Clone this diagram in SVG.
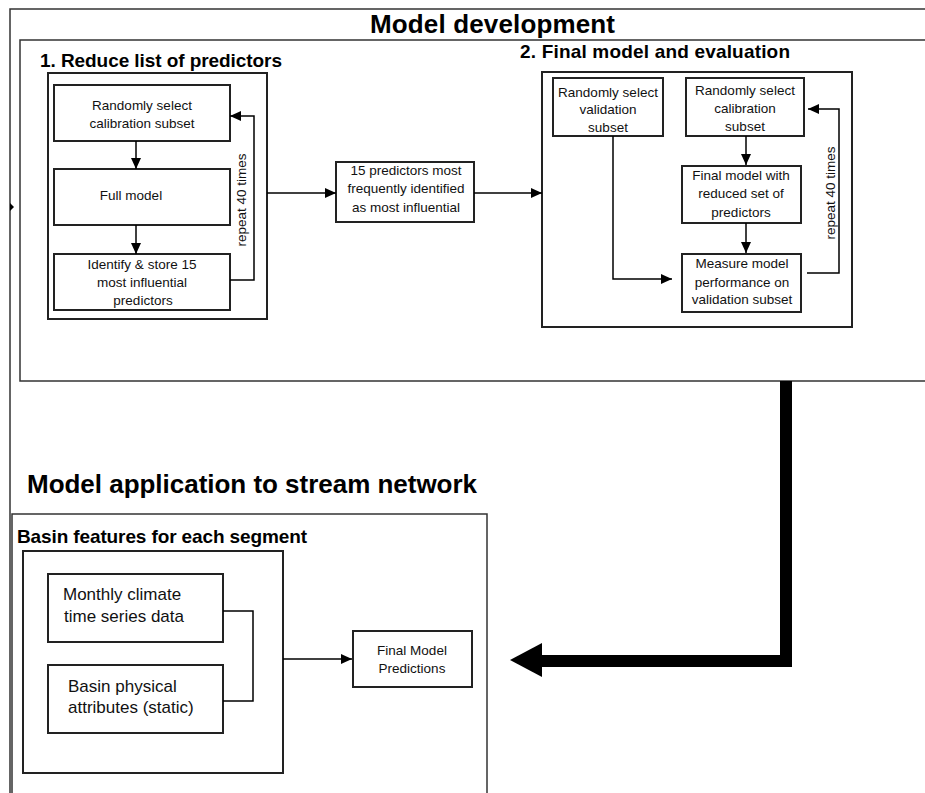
<svg xmlns="http://www.w3.org/2000/svg" width="925" height="793" viewBox="0 0 925 793">
  <style>
    .frame { fill: none; stroke: #333; stroke-width: 1.5; }
    .box { fill: #fff; stroke: #222; stroke-width: 2; }
    .wire { fill: none; stroke: #000; stroke-width: 1.5; }
    .h1 { font-family: "Liberation Sans", Arial, sans-serif; font-weight: bold; font-size: 26px; fill: #000; }
    .h2 { font-family: "Liberation Sans", Arial, sans-serif; font-weight: bold; font-size: 19px; fill: #000; }
    .t { font-family: "Liberation Sans", Arial, sans-serif; font-size: 13.5px; fill: #111; text-anchor: middle; }
    .tl { font-family: "Liberation Sans", Arial, sans-serif; font-size: 17px; fill: #111; }
  </style>
  <defs>
    <marker id="arrow" markerUnits="userSpaceOnUse" markerWidth="11" markerHeight="10" refX="11" refY="5" orient="auto">
      <path d="M0,0 L11,5 L0,10 z" fill="#000"/>
    </marker>
  </defs>
  <rect width="925" height="793" fill="#fff"/>

  <!-- page frame and section frames (open on the right and bottom) -->
  <g id="frames">
    <path class="frame" d="M10,800 V9 H935"/>
    <path class="frame" d="M935,40 H20 V381 H935"/>
    <path class="frame" d="M12,800 V514 H487 V800"/>
    <path d="M10,203 L14,207 L10,211 z" fill="#000"/>
  </g>

  <!-- headings -->
  <g id="headings">
    <text class="h1" x="370" y="33" textLength="245">Model development</text>
    <text class="h2" x="40" y="67" textLength="242">1. Reduce list of predictors</text>
    <text class="h2" x="520" y="58" textLength="270">2. Final model and evaluation</text>
    <text class="h1" x="27" y="493" textLength="450">Model application to stream network</text>
    <text class="h2" x="17" y="543" textLength="290">Basin features for each segment</text>
  </g>

  <!-- section 1 -->
  <g id="reduce-group">
    <rect class="box" x="48" y="73" width="219" height="246"/>
  </g>
  <g id="calib-subset-1">
    <rect class="box" x="54" y="85" width="176" height="56"/>
    <text class="t" x="142" y="110">Randomly select</text>
    <text class="t" x="142" y="128">calibration subset</text>
  </g>
  <g id="full-model">
    <rect class="box" x="54" y="169" width="176" height="56"/>
    <text class="t" x="131" y="200">Full model</text>
  </g>
  <g id="identify">
    <rect class="box" x="54" y="254" width="176" height="56"/>
    <text class="t" x="142" y="269">Identify &amp; store 15</text>
    <text class="t" x="142" y="287">most influential</text>
    <text class="t" x="143" y="305">predictors</text>
  </g>
  <text class="t" transform="translate(246,200) rotate(-90)">repeat 40 times</text>

  <!-- middle node -->
  <g id="top15">
    <rect class="box" x="336" y="162" width="138" height="60"/>
    <text class="t" x="406" y="175">15 predictors most</text>
    <text class="t" x="406" y="193">frequently identified</text>
    <text class="t" x="406" y="212">as most influential</text>
  </g>

  <!-- section 2 -->
  <g id="final-group">
    <rect class="box" x="542" y="72" width="310" height="255"/>
  </g>
  <g id="valid-subset">
    <rect class="box" x="553" y="78" width="110" height="58"/>
    <text class="t" x="608" y="97">Randomly select</text>
    <text class="t" x="608" y="114">validation</text>
    <text class="t" x="608" y="132">subset</text>
  </g>
  <g id="calib-subset-2">
    <rect class="box" x="686" y="78" width="118" height="58"/>
    <text class="t" x="745" y="95">Randomly select</text>
    <text class="t" x="745" y="113">calibration</text>
    <text class="t" x="745" y="131">subset</text>
  </g>
  <g id="final-model">
    <rect class="box" x="682" y="166" width="119" height="57"/>
    <text class="t" x="741" y="180">Final model with</text>
    <text class="t" x="741" y="198">reduced set of</text>
    <text class="t" x="741" y="217">predictors</text>
  </g>
  <g id="measure">
    <rect class="box" x="682" y="254" width="119" height="58"/>
    <text class="t" x="742" y="268">Measure model</text>
    <text class="t" x="742" y="287">performance on</text>
    <text class="t" x="742" y="304">validation subset</text>
  </g>
  <text class="t" transform="translate(835,193) rotate(-90)">repeat 40 times</text>

  <!-- application section -->
  <g id="basin-group">
    <rect class="box" x="23" y="551" width="260" height="222"/>
  </g>
  <g id="climate">
    <rect class="box" x="48" y="574" width="175" height="68"/>
    <text class="tl" x="63" y="600">Monthly climate</text>
    <text class="tl" x="64" y="622">time series data</text>
  </g>
  <g id="physical">
    <rect class="box" x="48" y="665" width="175" height="68"/>
    <text class="tl" x="68" y="692">Basin physical</text>
    <text class="tl" x="68" y="713">attributes (static)</text>
  </g>
  <g id="predictions">
    <rect class="box" x="353" y="631" width="119" height="56"/>
    <text class="t" x="412" y="655">Final Model</text>
    <text class="t" x="412" y="673">Predictions</text>
  </g>

  <!-- connectors -->
  <g id="connectors">
    <path class="wire" d="M136,141 V169" marker-end="url(#arrow)"/>
    <path class="wire" d="M136,225 V254" marker-end="url(#arrow)"/>
    <path class="wire" d="M230,280 H254 V116 H230" marker-end="url(#arrow)"/>
    <path class="wire" d="M267,193 H336" marker-end="url(#arrow)"/>
    <path class="wire" d="M474,193 H542" marker-end="url(#arrow)"/>
    <path class="wire" d="M746,136 V165" marker-end="url(#arrow)"/>
    <path class="wire" d="M746,223 V253" marker-end="url(#arrow)"/>
    <path class="wire" d="M613,136 V279 H672" marker-end="url(#arrow)"/>
    <path class="wire" d="M807,273 H839 V109 H808" marker-end="url(#arrow)"/>
    <path class="wire" d="M223,611 H253 V701 H223"/>
    <path class="wire" d="M283,659 H352" marker-end="url(#arrow)"/>
    <!-- heavy hand-off arrow from development to application -->
    <path d="M786,381 V661 H540" fill="none" stroke="#000" stroke-width="12"/>
    <path d="M542,643 L510,660 L542,677 z" fill="#000"/>
  </g>
</svg>
